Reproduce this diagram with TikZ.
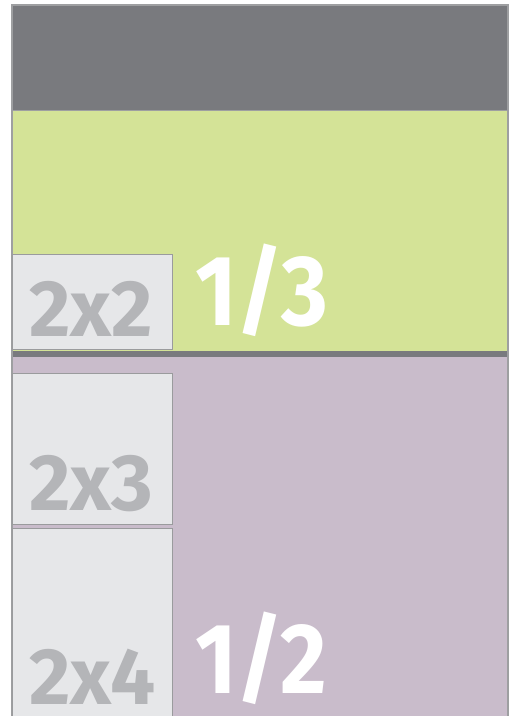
\documentclass[tikz,border=0pt]{standalone}
\usepackage{fontspec}
\setmainfont{Fira Sans}
\definecolor{headgray}{RGB}{121,122,126}
\definecolor{framegray}{RGB}{158,159,161}
\definecolor{leafgreen}{RGB}{212,227,151}
\definecolor{lilac}{RGB}{201,188,203}
\definecolor{tilefill}{RGB}{230,231,233}
\definecolor{tileline}{RGB}{154,155,157}
\definecolor{tiletext}{RGB}{180,181,184}
\newcommand{\narrowed}[1]{\scalebox{0.9}[1]{#1}}
\begin{document}
\begin{tikzpicture}[
	x=1pt, y=-1pt,
	panel/.style={draw=framegray, line width=1.5pt},
	tile/.style={fill=tilefill, draw=tileline, line width=1pt},
	tilelbl/.style={anchor=base west, inner sep=0pt, text depth=0pt, text=tiletext,
		font=\fontsize{80}{80}\selectfont\bfseries},
	fraclbl/.style={anchor=base west, inner sep=0pt, text depth=0pt, text=white,
		font=\fontsize{100}{100}\selectfont\bfseries},
	]
	
	\useasboundingbox (0,0) rectangle (512,716);
	
	% bands
	\fill[headgray] (12,5) rectangle (508,110);
	\fill[leafgreen] (12,111) rectangle (508,351);
	\fill[headgray] (12,351) rectangle (508,357);
	\fill[lilac] (12,357) rectangle (508,716);
	\draw[panel] (12,720) -- (12,5) -- (508,5) -- (508,720);
	\draw[panel] (12,110.5) -- (508,110.5);
	
	% tiles
	\draw[tile] (12,254) rectangle (172,349);
	\draw[tile] (12,373) rectangle (172,524);
	\draw[tile] (12,528) rectangle (172,720);
	
	% labels
	\node[tilelbl] (two2) at (29,336) {2x2};
	\node[tilelbl] (two3) at (29,510) {2x3};
	\node[tilelbl] (two4) at (29,704) {2x4};
	\node[fraclbl] (third) at (195,325) {\narrowed{1/3}};
	\node[fraclbl] (half)  at (195,693) {\narrowed{1/2}};
	
\end{tikzpicture}
\end{document}
